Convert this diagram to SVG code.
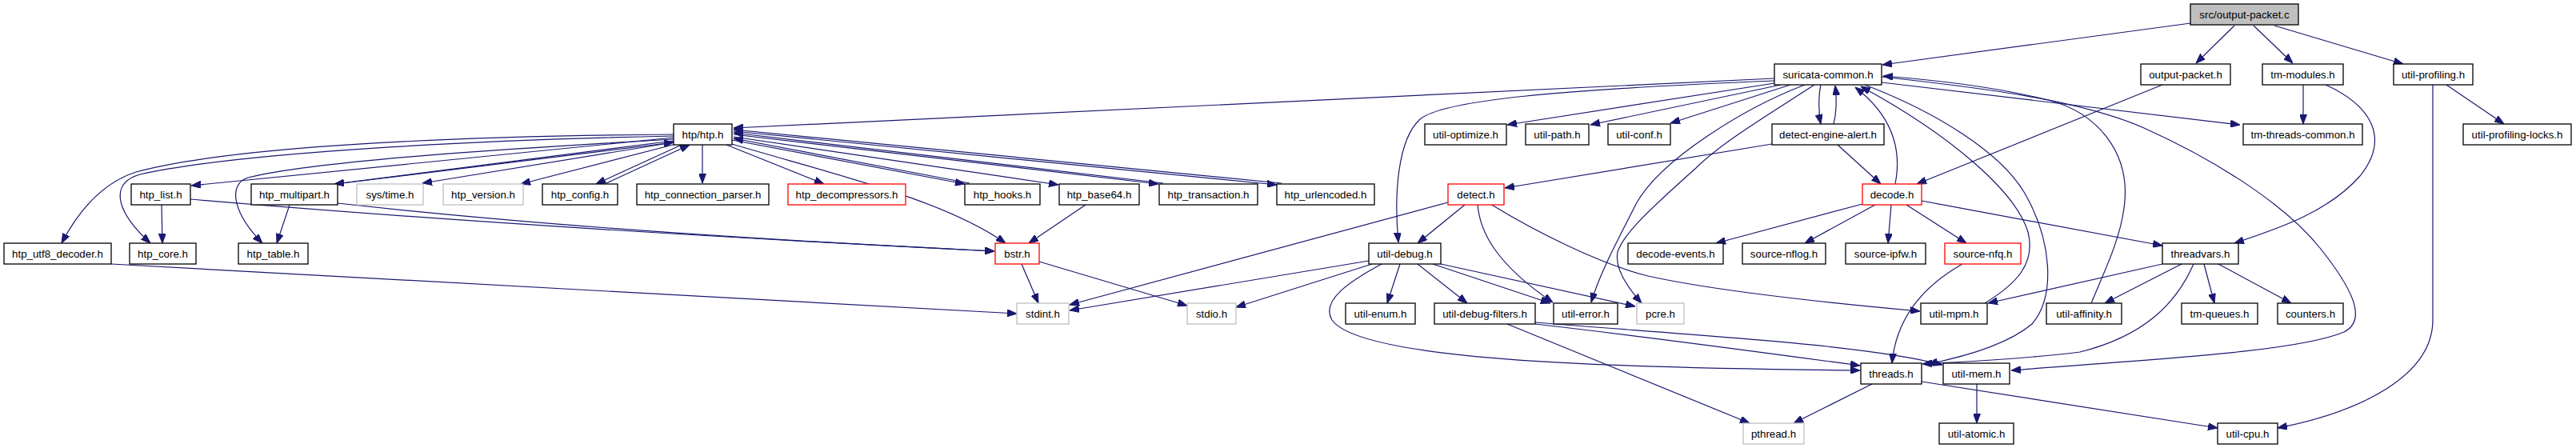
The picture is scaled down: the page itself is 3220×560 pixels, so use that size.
<svg xmlns="http://www.w3.org/2000/svg" width="3220" height="560" viewBox="0 0 3220 560">
<style>
.node rect{fill:#ffffff;stroke:#000000;stroke-width:1.3}
.node.g rect{stroke:#bfbfbf}
.node.r rect{stroke:#ff0000}
.node.root rect{fill:#bfbfbf}
.node text{font-family:"Liberation Sans",Arial,sans-serif;font-size:13.3px;text-anchor:middle;fill:#000000}
#edges path{fill:none;stroke:#191970;stroke-width:1.2;marker-end:url(#ah)}
</style>
<defs>
<marker id="ah" markerUnits="userSpaceOnUse" markerWidth="12" markerHeight="9" refX="12" refY="4.5" orient="auto">
<path d="M0,0 L12,4.5 L0,9 z" fill="#191970" stroke="#191970" stroke-width="1"/>
</marker>
</defs>
<rect width="3220" height="560" fill="#ffffff"/>
<g id="edges">
<path d="M2738,29 L2353,81"/>
<path d="M2793,32 L2745,79"/>
<path d="M2817,32 L2866,79"/>
<path d="M2843,32 L3004,80"/>
<path d="M2218,98 L917,160"/>
<path d="M2218,101 C1950,112 1800,125 1774,150 C1748,175 1742,240 1748,303"/>
<path d="M2218,104 L1884,156"/>
<path d="M2226,106 L1988,156"/>
<path d="M2238,106 L2088,154"/>
<path d="M2276,106 C2273,120 2273,140 2276,155"/>
<path d="M2292,155 C2296,140 2296,125 2294,107"/>
<path d="M2256,106 C2180,135 2075,200 2045,255 C2025,295 2000,340 1989,378"/>
<path d="M2268,106 C2200,150 2150,180 2120,210 C2070,255 2030,290 2022,315 C2018,335 2035,360 2052,379"/>
<path d="M2352,103 L2800,156"/>
<path d="M2352,96 C2480,110 2600,125 2680,160 C2780,205 2860,260 2900,310 C2940,360 2960,400 2930,415 C2870,440 2700,448 2514,463"/>
<path d="M2331,106 C2420,140 2500,190 2530,240 C2565,300 2570,370 2540,405 C2510,430 2460,445 2410,455"/>
<path d="M2481,379 C2520,355 2545,330 2535,290 C2520,240 2440,170 2326,108"/>
<path d="M2614,379 C2630,340 2650,300 2655,260 C2665,190 2620,140 2560,125 C2500,110 2420,100 2354,95"/>
<path d="M2369,230 C2376,195 2372,150 2319,109"/>
<path d="M842,168 C600,170 300,180 170,215 C130,228 100,260 77,304"/>
<path d="M842,170 C600,175 300,190 175,218 C140,228 140,260 188,304"/>
<path d="M842,172 L239,232"/>
<path d="M842,174 C650,185 400,200 310,222 C285,230 290,265 328,304"/>
<path d="M842,176 L418,230"/>
<path d="M428,229 L842,178"/>
<path d="M842,178 L528,229"/>
<path d="M845,180 L651,230"/>
<path d="M852,181 L745,230"/>
<path d="M758,229 L862,181"/>
<path d="M878,181 L878,229"/>
<path d="M908,181 L1030,230"/>
<path d="M915,175 L1206,230"/>
<path d="M1212,229 L917,173"/>
<path d="M915,180 C1050,220 1180,250 1257,304"/>
<path d="M917,171 L1323,231"/>
<path d="M917,168 L1448,230"/>
<path d="M1454,229 L917,166"/>
<path d="M917,164 L1596,231"/>
<path d="M1602,229 L917,162"/>
<path d="M1357,256 L1286,304"/>
<path d="M202,256 L203,304"/>
<path d="M362,256 L346,304"/>
<path d="M238,249 C600,280 1000,302 1243,314"/>
<path d="M422,254 C700,285 1000,302 1243,314"/>
<path d="M139,330 L1271,392"/>
<path d="M1277,330 L1298,379"/>
<path d="M1299,327 L1484,382"/>
<path d="M2215,180 L1881,235"/>
<path d="M2297,181 L2351,230"/>
<path d="M2703,106 L2396,230"/>
<path d="M1810,253 L1337,381"/>
<path d="M1711,326 L1337,388"/>
<path d="M1715,330 L1545,384"/>
<path d="M1831,256 L1772,304"/>
<path d="M1847,256 C1850,290 1870,330 1941,378"/>
<path d="M1863,255 C1920,290 2000,330 2060,345 C2150,365 2300,380 2400,389"/>
<path d="M1750,330 L1734,379"/>
<path d="M1772,330 L1834,379"/>
<path d="M1791,330 L1938,379"/>
<path d="M1801,330 L2044,383"/>
<path d="M1727,330 C1690,350 1650,375 1665,400 C1700,450 2000,460 2325,463"/>
<path d="M1919,403 C2100,418 2330,430 2428,456"/>
<path d="M1919,405 C2050,420 2200,440 2325,457"/>
<path d="M1884,405 L2187,529"/>
<path d="M2340,480 L2242,529"/>
<path d="M2402,477 L2772,535"/>
<path d="M2471,480 L2471,529"/>
<path d="M2453,330 C2400,360 2370,400 2365,454"/>
<path d="M2703,330 L2485,379"/>
<path d="M2727,330 L2631,379"/>
<path d="M2742,330 C2720,380 2680,420 2600,440 C2520,450 2450,452 2403,455"/>
<path d="M2755,330 L2768,379"/>
<path d="M2773,330 L2864,379"/>
<path d="M2328,255 L2145,304"/>
<path d="M2344,256 L2256,304"/>
<path d="M2364,256 L2360,304"/>
<path d="M2383,256 L2458,304"/>
<path d="M2402,251 L2703,307"/>
<path d="M2879,106 L2879,155"/>
<path d="M2907,106 C2960,130 2990,170 2950,220 C2910,265 2850,285 2793,304"/>
<path d="M3058,106 L3130,155"/>
<path d="M3041,106 L3041,400 C3041,470 2950,515 2847,535"/>
</g>
<g id="n_root" class="node root"><rect x="2738" y="5" width="135" height="26"/><text x="2805.5" y="22.5">src/output-packet.c</text></g>
<g id="n_suricata_common" class="node"><rect x="2218" y="80" width="134" height="26"/><text x="2285" y="97.5">suricata-common.h</text></g>
<g id="n_output_packet_h" class="node"><rect x="2676" y="80" width="112" height="26"/><text x="2732" y="97.5">output-packet.h</text></g>
<g id="n_tm_modules" class="node"><rect x="2828" y="80" width="101" height="26"/><text x="2878.5" y="97.5">tm-modules.h</text></g>
<g id="n_util_profiling" class="node"><rect x="2992" y="80" width="99" height="26"/><text x="3041.5" y="97.5">util-profiling.h</text></g>
<g id="n_htp" class="node"><rect x="842" y="155" width="73" height="26"/><text x="878.5" y="172.5">htp/htp.h</text></g>
<g id="n_util_optimize" class="node"><rect x="1781" y="155" width="102" height="26"/><text x="1832" y="172.5">util-optimize.h</text></g>
<g id="n_util_path" class="node"><rect x="1907" y="155" width="79" height="26"/><text x="1946.5" y="172.5">util-path.h</text></g>
<g id="n_util_conf" class="node"><rect x="2010" y="155" width="78" height="26"/><text x="2049" y="172.5">util-conf.h</text></g>
<g id="n_detect_engine_alert" class="node"><rect x="2215" y="155" width="140" height="26"/><text x="2285" y="172.5">detect-engine-alert.h</text></g>
<g id="n_tm_threads_common" class="node"><rect x="2804" y="155" width="149" height="26"/><text x="2878.5" y="172.5">tm-threads-common.h</text></g>
<g id="n_util_profiling_locks" class="node"><rect x="3079" y="155" width="135" height="26"/><text x="3146.5" y="172.5">util-profiling-locks.h</text></g>
<g id="n_htp_list" class="node"><rect x="164" y="230" width="74" height="26"/><text x="201" y="247.5">htp_list.h</text></g>
<g id="n_htp_multipart" class="node"><rect x="314" y="230" width="108" height="26"/><text x="368" y="247.5">htp_multipart.h</text></g>
<g id="n_sys_time" class="node g"><rect x="446" y="230" width="83" height="26"/><text x="487.5" y="247.5">sys/time.h</text></g>
<g id="n_htp_version" class="node g"><rect x="554" y="230" width="100" height="26"/><text x="604" y="247.5">htp_version.h</text></g>
<g id="n_htp_config" class="node"><rect x="678" y="230" width="94" height="26"/><text x="725" y="247.5">htp_config.h</text></g>
<g id="n_htp_connection_parser" class="node"><rect x="796" y="230" width="165" height="26"/><text x="878.5" y="247.5">htp_connection_parser.h</text></g>
<g id="n_htp_decompressors" class="node r"><rect x="985" y="230" width="147" height="26"/><text x="1058.5" y="247.5">htp_decompressors.h</text></g>
<g id="n_htp_hooks" class="node"><rect x="1206" y="230" width="94" height="26"/><text x="1253" y="247.5">htp_hooks.h</text></g>
<g id="n_htp_base64" class="node"><rect x="1324" y="230" width="100" height="26"/><text x="1374" y="247.5">htp_base64.h</text></g>
<g id="n_htp_transaction" class="node"><rect x="1449" y="230" width="123" height="26"/><text x="1510.5" y="247.5">htp_transaction.h</text></g>
<g id="n_htp_urlencoded" class="node"><rect x="1596" y="230" width="122" height="26"/><text x="1657" y="247.5">htp_urlencoded.h</text></g>
<g id="n_detect" class="node r"><rect x="1810" y="230" width="70" height="26"/><text x="1845" y="247.5">detect.h</text></g>
<g id="n_decode" class="node r"><rect x="2328" y="230" width="74" height="26"/><text x="2365" y="247.5">decode.h</text></g>
<g id="n_htp_utf8_decoder" class="node"><rect x="5" y="304" width="134" height="26"/><text x="72" y="321.5">htp_utf8_decoder.h</text></g>
<g id="n_htp_core" class="node"><rect x="162" y="304" width="83" height="26"/><text x="203.5" y="321.5">htp_core.h</text></g>
<g id="n_htp_table" class="node"><rect x="298" y="304" width="87" height="26"/><text x="341.5" y="321.5">htp_table.h</text></g>
<g id="n_bstr" class="node r"><rect x="1244" y="304" width="55" height="26"/><text x="1271.5" y="321.5">bstr.h</text></g>
<g id="n_util_debug" class="node"><rect x="1711" y="304" width="90" height="26"/><text x="1756" y="321.5">util-debug.h</text></g>
<g id="n_decode_events" class="node"><rect x="2035" y="304" width="119" height="26"/><text x="2094.5" y="321.5">decode-events.h</text></g>
<g id="n_source_nflog" class="node"><rect x="2178" y="304" width="104" height="26"/><text x="2230" y="321.5">source-nflog.h</text></g>
<g id="n_source_ipfw" class="node"><rect x="2307" y="304" width="100" height="26"/><text x="2357" y="321.5">source-ipfw.h</text></g>
<g id="n_source_nfq" class="node r"><rect x="2431" y="304" width="95" height="26"/><text x="2478.5" y="321.5">source-nfq.h</text></g>
<g id="n_threadvars" class="node"><rect x="2703" y="304" width="95" height="26"/><text x="2750.5" y="321.5">threadvars.h</text></g>
<g id="n_stdint" class="node g"><rect x="1271" y="379" width="65" height="26"/><text x="1303.5" y="396.5">stdint.h</text></g>
<g id="n_stdio" class="node g"><rect x="1484" y="379" width="61" height="26"/><text x="1514.5" y="396.5">stdio.h</text></g>
<g id="n_util_enum" class="node"><rect x="1682" y="379" width="87" height="26"/><text x="1725.5" y="396.5">util-enum.h</text></g>
<g id="n_util_debug_filters" class="node"><rect x="1793" y="379" width="126" height="26"/><text x="1856" y="396.5">util-debug-filters.h</text></g>
<g id="n_util_error" class="node"><rect x="1942" y="379" width="80" height="26"/><text x="1982" y="396.5">util-error.h</text></g>
<g id="n_pcre" class="node g"><rect x="2046" y="379" width="59" height="26"/><text x="2075.5" y="396.5">pcre.h</text></g>
<g id="n_util_mpm" class="node"><rect x="2401" y="379" width="83" height="26"/><text x="2442.5" y="396.5">util-mpm.h</text></g>
<g id="n_util_affinity" class="node"><rect x="2558" y="379" width="94" height="26"/><text x="2605" y="396.5">util-affinity.h</text></g>
<g id="n_tm_queues" class="node"><rect x="2727" y="379" width="95" height="26"/><text x="2774.5" y="396.5">tm-queues.h</text></g>
<g id="n_counters" class="node"><rect x="2847" y="379" width="82" height="26"/><text x="2888" y="396.5">counters.h</text></g>
<g id="n_threads" class="node"><rect x="2326" y="454" width="76" height="26"/><text x="2364" y="471.5">threads.h</text></g>
<g id="n_util_mem" class="node"><rect x="2429" y="454" width="83" height="26"/><text x="2470.5" y="471.5">util-mem.h</text></g>
<g id="n_pthread" class="node g"><rect x="2179" y="529" width="76" height="26"/><text x="2217" y="546.5">pthread.h</text></g>
<g id="n_util_atomic" class="node"><rect x="2424" y="529" width="93" height="26"/><text x="2470.5" y="546.5">util-atomic.h</text></g>
<g id="n_util_cpu" class="node"><rect x="2772" y="529" width="75" height="26"/><text x="2809.5" y="546.5">util-cpu.h</text></g>
</svg>
